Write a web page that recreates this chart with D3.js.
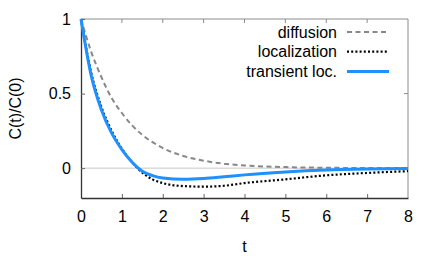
<!DOCTYPE html>
<html>
<head>
<meta charset="utf-8">
<script src="https://cdn.jsdelivr.net/npm/d3@7"></script>
<style>
  body { margin: 0; background: #fff; }
  svg { display: block; font-family: "Liberation Sans", Arial, sans-serif; }
</style>
</head>
<body>
<div id="chart"></div>
<script>
// values
const tValues = [0, 0.25, 0.5, 0.75, 1, 1.25, 1.5, 1.75, 2, 2.5, 3, 3.5, 4, 5, 6, 7, 8];
const diffusion = [1, 0.78, 0.61, 0.47, 0.37, 0.287, 0.223, 0.174, 0.135, 0.082, 0.05, 0.03, 0.018, 0.007, 0.003, 0.001, 0.0005];
const localization = [1, 0.64, 0.41, 0.25, 0.13, 0.04, -0.03, -0.075, -0.1, -0.12, -0.124, -0.118, -0.1, -0.075, -0.048, -0.032, -0.02];
const transient = [1, 0.62, 0.39, 0.235, 0.125, 0.04, -0.02, -0.05, -0.066, -0.075, -0.07, -0.058, -0.045, -0.026, -0.013, -0.006, -0.002];
const xTicks = [0, 1, 2, 3, 4, 5, 6, 7, 8];
const yTicks = [0, 0.5, 1];

const seriesList = [
  { name: 'diffusion', values: diffusion, color: '#888888', width: 2, dash: '5,3.5' },
  { name: 'localization', values: localization, color: '#000000', width: 2.2, dash: '2,2.2' },
  { name: 'transient loc.', values: transient, color: '#1e90ff', width: 3, dash: null }
];

const width = 436, height = 262;
const margin = { top: 19, right: 28, bottom: 64, left: 81 };

const svg = d3.select('#chart').append('svg')
  .attr('width', width)
  .attr('height', height);

const x = d3.scaleLinear().domain([0, 8]).range([margin.left, width - margin.right]);
const y = d3.scaleLinear().domain([-0.2, 1]).range([height - margin.bottom, margin.top]);

// zero line
svg.append('line')
  .attr('x1', x(0)).attr('x2', x(8))
  .attr('y1', y(0)).attr('y2', y(0))
  .attr('stroke', '#c8c8c8')
  .attr('stroke-width', 1);

// frame: top and right lighter
svg.append('path')
  .attr('d', `M${x(0)},${y(1)}H${x(8)}V${y(-0.2)}`)
  .attr('fill', 'none')
  .attr('stroke', '#8c8c8c')
  .attr('stroke-width', 1);

const tickLen = 4;
// mirrored ticks on top and right
svg.append('g').selectAll('line')
  .data(xTicks.slice(1, -1))
  .join('line')
  .attr('x1', d => x(d)).attr('x2', d => x(d))
  .attr('y1', y(1)).attr('y2', y(1) + tickLen)
  .attr('stroke', '#8c8c8c');
svg.append('line')
  .attr('x1', x(8)).attr('x2', x(8) - tickLen)
  .attr('y1', y(0.5)).attr('y2', y(0.5))
  .attr('stroke', '#8c8c8c');

// bottom axis
const xAxis = svg.append('g')
  .attr('transform', `translate(0,${y(-0.2)})`)
  .call(d3.axisBottom(x).tickValues(xTicks).tickSize(-tickLen).tickPadding(13).tickSizeOuter(0));
// left axis
const yAxis = svg.append('g')
  .attr('transform', `translate(${x(0)},0)`)
  .call(d3.axisLeft(y).tickValues(yTicks).tickSize(-tickLen).tickPadding(10).tickSizeOuter(0)
    .tickFormat(d3.format('')));

[xAxis, yAxis].forEach(g => {
  g.select('.domain').attr('stroke', '#333').attr('stroke-width', 1.3);
  g.selectAll('.tick line').attr('stroke', '#666');
  g.selectAll('.tick text').attr('fill', '#000').style('font-size', '16px')
    .style('font-family', '"Liberation Sans", Arial, sans-serif');
});
xAxis.selectAll('.tick').filter(d => d === 0 || d === 8).select('line').remove();

// curves
const line = d3.line()
  .x((d, i) => x(tValues[i]))
  .y(d => y(d))
  .curve(d3.curveMonotoneX);

svg.append('g').selectAll('path')
  .data(seriesList)
  .join('path')
  .attr('d', d => line(d.values))
  .attr('fill', 'none')
  .attr('stroke', d => d.color)
  .attr('stroke-width', d => d.width)
  .attr('stroke-dasharray', d => d.dash)
  .attr('stroke-linejoin', 'round');

// legend
const legend = svg.append('g');
const rows = legend.selectAll('g')
  .data(seriesList)
  .join('g')
  .attr('transform', (d, i) => `translate(0,${32 + i * 19.7})`);
rows.append('text')
  .attr('x', 337)
  .attr('dy', '0.35em')
  .attr('text-anchor', 'end')
  .style('font-size', '16px')
  .text(d => d.name);
rows.append('line')
  .attr('x1', 347).attr('x2', 389)
  .attr('stroke', d => d.color)
  .attr('stroke-width', d => d.width)
  .attr('stroke-dasharray', d => d.dash);

// axis titles
svg.append('text')
  .attr('x', x(4))
  .attr('y', 252)
  .attr('text-anchor', 'middle')
  .style('font-size', '16px')
  .text('t');
svg.append('text')
  .attr('transform', `translate(21,${y(0.4)}) rotate(-90)`)
  .attr('text-anchor', 'middle')
  .style('font-size', '16px')
  .text('C(t)/C(0)');
</script>
</body>
</html>
